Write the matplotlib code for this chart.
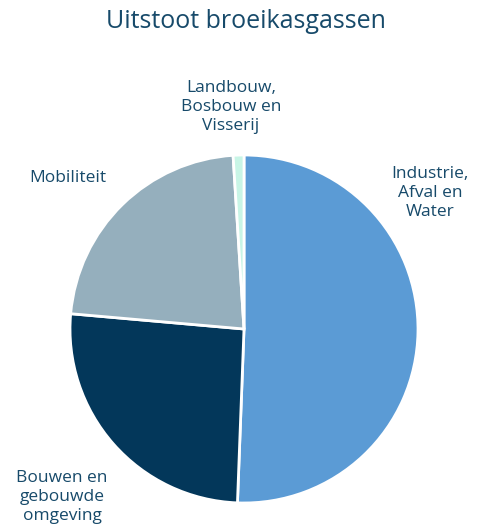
import matplotlib.pyplot as plt

plt.rcParams['font.family'] = ['Open Sans', 'DejaVu Sans']

# Data
sectors = ['Industrie,\nAfval en\nWater', 'Bouwen en\ngebouwde\nomgeving',
           'Mobiliteit', 'Landbouw,\nBosbouw en\nVisserij']
shares = [50.6, 25.8, 22.6, 1.0]
colors = ['#5B9BD5', '#03375A', '#95AFBD', '#C8F5E6']
# label centres in pixels of the 481x532 image
label_px = [(430, 193), (62, 497), (68, 178), (231, 107)]

W, H = 481, 532
cx, cy, r = 244, 329, 174
txt_col = '#174A6A'

fig = plt.figure(figsize=(W / 100, H / 100), dpi=100)
ax = fig.add_axes([0, 0, 1, 1])

ax.pie(shares, colors=colors, startangle=90, counterclock=False, radius=1,
       wedgeprops=dict(edgecolor='white', linewidth=2))

# pie() resets the limits, so set them afterwards
ax.set_xlim(-cx / r, (W - cx) / r)
ax.set_ylim(-(H - cy) / r, cy / r)
ax.set_aspect('equal')
ax.axis('off')

for name, (px, py) in zip(sectors, label_px):
    ax.text((px - cx) / r, (cy - py) / r, name, ha='center', va='center',
            fontsize=12.5, color=txt_col, linespacing=1.25)

fig.text(246 / W, 1 - 22 / H, 'Uitstoot broeikasgassen', ha='center', va='center',
         fontsize=18, color=txt_col)

fig.savefig('out.png', dpi=100)
